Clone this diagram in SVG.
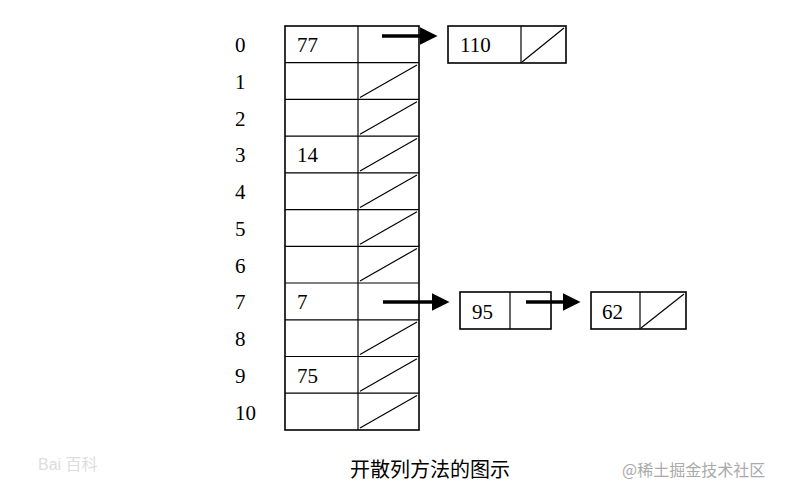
<svg xmlns="http://www.w3.org/2000/svg" width="800" height="494" viewBox="0 0 800 494">
<defs>
<style>
.c{fill:#fff;stroke:#000;stroke-width:1.6}
.d{stroke:#000;stroke-width:1.2}
.t{font-family:"Liberation Serif",serif;font-size:21px;fill:#000}
.a{stroke:#000;stroke-width:3.5;fill:none}
</style>
<marker id="ah" markerWidth="5" markerHeight="5" refX="4" refY="2.5" orient="auto" markerUnits="strokeWidth"><path d="M0,0L5,2.5L0,5z" fill="#000"/></marker>
</defs>
<rect width="800" height="494" fill="#fff"/>
<g id="table">
<rect class="c" x="285" y="26" width="134" height="404"/>
<line class="d" x1="358" y1="26" x2="358" y2="430"/>
<g class="d">
<line x1="285" y1="62.7" x2="419" y2="62.7"/><line x1="285" y1="99.4" x2="419" y2="99.4"/><line x1="285" y1="136.2" x2="419" y2="136.2"/><line x1="285" y1="172.9" x2="419" y2="172.9"/><line x1="285" y1="209.6" x2="419" y2="209.6"/><line x1="285" y1="246.3" x2="419" y2="246.3"/><line x1="285" y1="283" x2="419" y2="283"/><line x1="285" y1="319.8" x2="419" y2="319.8"/><line x1="285" y1="356.5" x2="419" y2="356.5"/><line x1="285" y1="393.2" x2="419" y2="393.2"/>
<line x1="360" y1="97.4" x2="417" y2="65"/><line x1="360" y1="134.2" x2="417" y2="101.7"/><line x1="360" y1="170.9" x2="417" y2="138.4"/><line x1="360" y1="207.6" x2="417" y2="175.1"/><line x1="360" y1="244.3" x2="417" y2="211.8"/><line x1="360" y1="281" x2="417" y2="248.5"/><line x1="360" y1="354.5" x2="417" y2="322"/><line x1="360" y1="391.2" x2="417" y2="358.7"/><line x1="360" y1="428" x2="417" y2="395.4"/>
</g>
<g class="t">
<text x="235" y="52">0</text><text x="235" y="89">1</text><text x="235" y="126">2</text><text x="235" y="162">3</text><text x="235" y="199">4</text><text x="235" y="236">5</text><text x="235" y="273">6</text><text x="235" y="309">7</text><text x="235" y="346">8</text><text x="235" y="383">9</text><text x="235" y="420">10</text>
<text x="297" y="52">77</text><text x="297" y="162">14</text><text x="297" y="309">7</text><text x="297" y="383">75</text>
</g>
</g>
<g id="n110">
<rect class="c" x="448" y="26" width="118" height="37"/>
<line class="d" x1="521" y1="26" x2="521" y2="63"/>
<line class="d" x1="522" y1="62" x2="564" y2="28"/>
<text class="t" x="460" y="52">110</text>
</g>
<g id="n95">
<rect class="c" x="460" y="292" width="91" height="37"/>
<line class="d" x1="510" y1="292" x2="510" y2="329"/>
<text class="t" x="472" y="319">95</text>
</g>
<g id="n62">
<rect class="c" x="591" y="292" width="95" height="37"/>
<line class="d" x1="640" y1="292" x2="640" y2="329"/>
<line class="d" x1="641" y1="328" x2="684" y2="294"/>
<text class="t" x="602" y="319">62</text>
</g>
<g id="connectors">
<line class="a" x1="382" y1="36" x2="434" y2="36" marker-end="url(#ah)"/>
<line class="a" x1="383" y1="302" x2="446" y2="302" marker-end="url(#ah)"/>
<line class="a" x1="526" y1="302" x2="577" y2="302" marker-end="url(#ah)"/>
</g>
<text x="350" y="477" font-family="'Noto Sans CJK SC',sans-serif" font-size="20" fill="#000">开散列方法的图示</text>
<text x="38" y="470" font-family="'Liberation Sans','Noto Sans CJK SC',sans-serif" font-size="16" fill="#ddd">Bai 百科</text>
<text x="622" y="476" font-family="'Noto Sans CJK SC',sans-serif" font-size="16" fill="#aaa">@稀土掘金技术社区</text>
</svg>
